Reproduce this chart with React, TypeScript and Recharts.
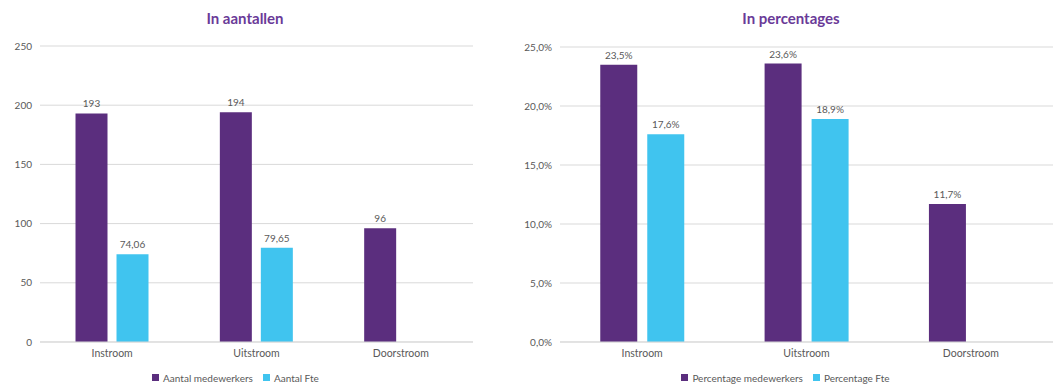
import React from 'react';
import { BarChart, Bar, XAxis, YAxis, CartesianGrid, Legend, LabelList } from 'recharts';

const categories = ['Instroom', 'Uitstroom', 'Doorstroom'];
const aantalMedewerkers = [193, 194, 96];
const aantalFte = [74.06, 79.65, null];
const percentageMedewerkers = [23.5, 23.6, 11.7];
const percentageFte = [17.6, 18.9, null];
const countTicks = [0, 50, 100, 150, 200, 250];
const pctTicks = [0, 5, 10, 15, 20, 25];

const PURPLE = '#5B2E7E';
const CYAN = '#40C4EF';
const GREY = '#595959';
const GRID = '#D9D9D9';
const FONT = 'Lato, "Liberation Sans", sans-serif';

const countData = categories.map((name, i) => ({ name, medewerkers: aantalMedewerkers[i], fte: aantalFte[i] }));
const pctData = categories.map((name, i) => ({ name, medewerkers: percentageMedewerkers[i], fte: percentageFte[i] }));

const comma = (v: number | null, digits: number) =>
  v == null ? '' : v.toFixed(digits).replace('.', ',');

const countLabel = (v: any) => (v == null ? '' : Number.isInteger(v) ? String(v) : comma(v, 2));
const pctLabel = (v: any) => (v == null ? '' : comma(v, 1) + '%');

const legendText = (value: string) => <span style={{ color: GREY, fontSize: 10 }}>{value}</span>;

const Title: React.FC<{ text: string; center: number }> = ({ text, center }) => (
  <div
    style={{
      position: 'absolute',
      top: 9,
      left: center - 150,
      width: 300,
      textAlign: 'center',
      fontFamily: FONT,
      fontWeight: 700,
      fontSize: 15,
      color: '#6A3A98',
    }}
  >
    {text}
  </div>
);

export default function App() {
  const tick = { fill: GREY, fontSize: 10, fontFamily: FONT };
  return (
    <div style={{ position: 'absolute', left: 0, top: 0, width: 1057, height: 385, background: '#fff', overflow: 'hidden', fontFamily: FONT }}>
      <Title text="In aantallen" center={245} />
      <Title text="In percentages" center={791} />

      <div style={{ position: 'absolute', left: 0, top: 0 }}>
        <BarChart width={520} height={385} data={countData} margin={{ top: 46, right: 47, left: 8, bottom: 0 }}
          barCategoryGap="24.6%" barGap={9}>
          <CartesianGrid vertical={false} stroke={GRID} />
          <XAxis dataKey="name" tickLine={false} axisLine={{ stroke: GRID }} tick={{ ...tick, fontSize: 10.5 }} height={24} />
          <YAxis domain={[0, 250]} ticks={countTicks} tickLine={false} axisLine={false} tick={tick} width={32} interval={0} />
          <Legend verticalAlign="bottom" iconType="square" iconSize={7} formatter={legendText} itemSorter={null as any}
            wrapperStyle={{ bottom: 0, fontFamily: FONT }} />
          <Bar dataKey="medewerkers" name="Aantal medewerkers" fill={PURPLE} isAnimationActive={false}>
            <LabelList dataKey="medewerkers" position="top" offset={6} formatter={countLabel} fill={GREY} fontSize={10} fontFamily={FONT} />
          </Bar>
          <Bar dataKey="fte" name="Aantal Fte" fill={CYAN} isAnimationActive={false}>
            <LabelList dataKey="fte" position="top" offset={6} formatter={countLabel} fill={GREY} fontSize={10} fontFamily={FONT} />
          </Bar>
        </BarChart>
      </div>

      <div style={{ position: 'absolute', left: 520, top: 0 }}>
        <BarChart width={537} height={385} data={pctData} margin={{ top: 47, right: 4, left: 8, bottom: 0 }}
          barCategoryGap="24.5%" barGap={10}>
          <CartesianGrid vertical={false} stroke={GRID} />
          <XAxis dataKey="name" tickLine={false} axisLine={{ stroke: GRID }} tick={{ ...tick, fontSize: 10.5 }} height={24} />
          <YAxis domain={[0, 25]} ticks={pctTicks} tickLine={false} axisLine={false} tick={tick} width={32} interval={0}
            tickFormatter={(v: number) => comma(v, 1) + '%'} />
          <Legend verticalAlign="bottom" iconType="square" iconSize={7} formatter={legendText} itemSorter={null as any}
            wrapperStyle={{ bottom: 0, fontFamily: FONT }} />
          <Bar dataKey="medewerkers" name="Percentage medewerkers" fill={PURPLE} isAnimationActive={false}>
            <LabelList dataKey="medewerkers" position="top" offset={6} formatter={pctLabel} fill={GREY} fontSize={10} fontFamily={FONT} />
          </Bar>
          <Bar dataKey="fte" name="Percentage Fte" fill={CYAN} isAnimationActive={false}>
            <LabelList dataKey="fte" position="top" offset={6} formatter={pctLabel} fill={GREY} fontSize={10} fontFamily={FONT} />
          </Bar>
        </BarChart>
      </div>
    </div>
  );
}
